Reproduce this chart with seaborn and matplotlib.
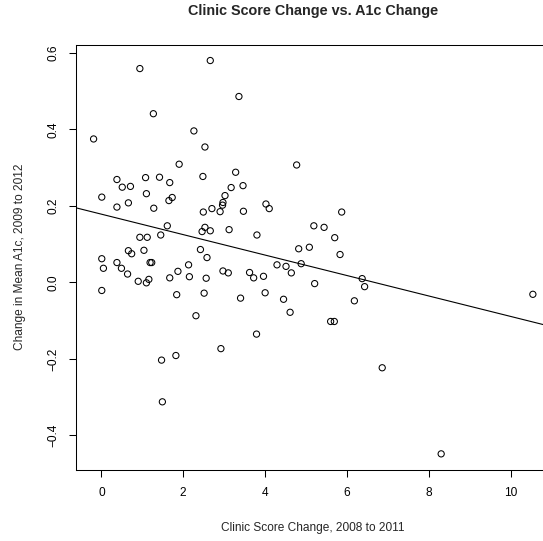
import numpy as np
import pandas as pd
import matplotlib
matplotlib.use('Agg')
import matplotlib.pyplot as plt
import seaborn as sns

# Values (clinic score change vs A1c change)
score_change = [
    -0.19, 0.94, 2.66, 3.36, 1.27, 2.26, 2.53, 1.90, 4.77, 3.28,
    0.38, 1.08, 1.42, 2.48, 1.67, 0.51, 0.71, 3.17, 3.46, 0.01,
    1.10, 1.73, 1.65, 3.02, 2.97, 0.66, 0.38, 1.28, 2.70, 2.96,
    4.02, 4.10, 2.49, 2.90, 3.47, 1.61, 2.53, 2.46, 2.66, 3.12,
    3.80, 0.94, 1.12, 1.45, 0.66, 0.74, 1.04, 2.42, 2.58, 4.82,
    0.01, 0.05, 0.01, 0.38, 0.49, 0.64, 0.90, 1.10, 1.16, 1.19,
    1.23, 1.67, 1.87, 1.84, 2.13, 2.15, 2.56, 2.51, 2.31, 1.47,
    1.82, 1.49, 2.97, 3.10, 2.92, 3.40, 3.62, 3.72, 3.96, 4.00,
    3.79, 4.29, 4.51, 4.64, 4.45, 4.61, 4.88, 5.87, 5.19, 5.44,
    5.70, 5.08, 5.83, 5.21, 6.37, 6.43, 6.18, 5.60, 5.69, 6.86,
    8.30, 10.54,
]
a1c_change = [
    0.375, 0.559, 0.580, 0.486, 0.441, 0.396, 0.354, 0.309, 0.307, 0.288,
    0.269, 0.274, 0.275, 0.277, 0.261, 0.249, 0.251, 0.248, 0.253, 0.223,
    0.232, 0.222, 0.214, 0.227, 0.209, 0.208, 0.197, 0.194, 0.193, 0.202,
    0.205, 0.193, 0.184, 0.185, 0.186, 0.148, 0.144, 0.133, 0.135, 0.138,
    0.124, 0.118, 0.118, 0.124, 0.083, 0.075, 0.084, 0.086, 0.065, 0.088,
    0.062, 0.037, -0.021, 0.052, 0.037, 0.022, 0.003, -0.001, 0.008, 0.052,
    0.052, 0.012, 0.029, -0.032, 0.046, 0.015, 0.011, -0.028, -0.087, -0.203,
    -0.191, -0.312, 0.030, 0.025, -0.173, -0.041, 0.026, 0.012, 0.016, -0.027,
    -0.135, 0.046, 0.042, 0.025, -0.044, -0.078, 0.049, 0.184, 0.148, 0.144,
    0.117, 0.092, 0.073, -0.003, 0.010, -0.011, -0.048, -0.102, -0.102, -0.223,
    -0.448, -0.031,
]
x_ticks = [0, 2, 4, 6, 8, 10]
y_ticks = [-0.4, -0.2, 0.0, 0.2, 0.4, 0.6]
y_tick_labels = ['\u22120.4', '\u22120.2', '0.0', '0.2', '0.4', '0.6']

df = pd.DataFrame({'score': score_change, 'a1c': a1c_change})

sns.set_style('ticks')
plt.rcParams['font.family'] = ['Liberation Sans', 'DejaVu Sans']

fig = plt.figure(figsize=(5.43, 5.41), dpi=100)
ax = fig.add_axes([0.1400, 0.1320, 0.8737, 0.7852])

# R-style 4% padding around the data range
def padded(v):
    lo, hi = min(v), max(v)
    r = hi - lo
    return lo - 0.04 * r, hi + 0.04 * r

ax.set_xlim(*padded(score_change))
ax.set_ylim(*padded(a1c_change))

sns.scatterplot(data=df, x='score', y='a1c', ax=ax, s=20, marker='o',
                facecolor='none', edgecolor='black', linewidth=0.75)
sns.regplot(data=df, x='score', y='a1c', ax=ax, scatter=False, ci=None,
            truncate=False, line_kws=dict(color='black', lw=0.8))

ax.set_xlim(*padded(score_change))
ax.set_ylim(*padded(a1c_change))

ax.set_xticks(x_ticks)
ax.set_xticklabels([str(t) for t in x_ticks])
ax.set_yticks(y_ticks)
ax.set_yticklabels(y_tick_labels)
ax.tick_params(axis='both', length=5.2, width=0.75, pad=7, labelsize=8.6,
               colors='black')
ax.tick_params(axis='y', labelrotation=90)
for lbl in ax.get_yticklabels():
    lbl.set_va('center')

for sp in ax.spines.values():
    sp.set_visible(True)
    sp.set_color('black')
    sp.set_linewidth(0.75)

ax.set_xlabel('Clinic Score Change, 2008 to 2011', fontsize=8.6, va='center')
ax.xaxis.set_label_coords(0.5, -0.1375)
ax.set_ylabel('Change in Mean A1c, 2009 to 2012', fontsize=8.6, va='center')
ax.yaxis.set_label_coords(-0.118, 0.5)
ax.set_title('Clinic Score Change vs. A1c Change', fontsize=10.4,
             fontweight='bold', y=1.0796, va='center', pad=0)

fig.savefig('out.png', dpi=100)
